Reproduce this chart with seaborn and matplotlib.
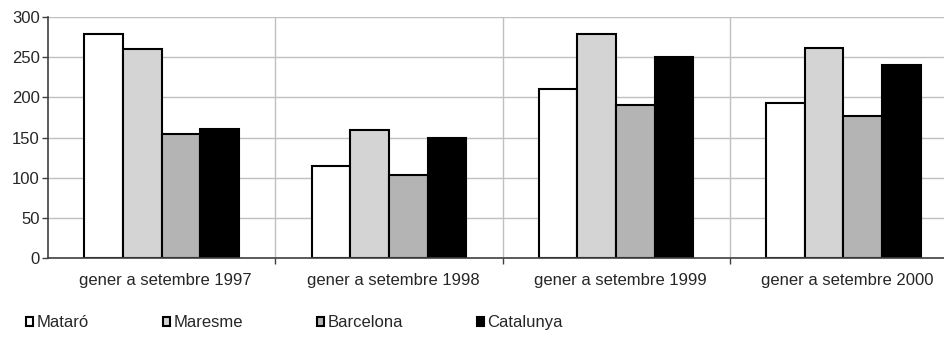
import pandas as pd
import matplotlib.pyplot as plt
import matplotlib.transforms as mtransforms
import seaborn as sns
from matplotlib.patches import Patch

# Dades
periodes = ['gener a setembre 1997', 'gener a setembre 1998',
            'gener a setembre 1999', 'gener a setembre 2000']
zones = ['Mataró', 'Maresme', 'Barcelona', 'Catalunya']
mataro = [279, 114, 210, 193]
maresme = [260, 159, 279, 262]
barcelona = [154, 103, 190, 177]
catalunya = [160, 149, 250, 240]
colors = ['#ffffff', '#d4d4d4', '#b4b4b4', '#000000']

df = pd.DataFrame({
    'periode': periodes * 4,
    'zona': [z for z in zones for _ in periodes],
    'valor': mataro + maresme + barcelona + catalunya,
})

sns.set_style('white')
plt.rcParams['font.family'] = ['Liberation Sans', 'DejaVu Sans']

fig = plt.figure(figsize=(9.44, 3.38), dpi=100)
ax = fig.add_axes([48 / 944, 80 / 338, 909 / 944, 241 / 338])

sns.barplot(data=df, x='periode', y='valor', hue='zona', order=periodes,
            hue_order=zones, palette=colors, width=0.68, gap=0,
            edgecolor='black', linewidth=1.5, saturation=1, ax=ax, legend=False)

ax.set_xlim(-0.5, 3.5)
ax.set_ylim(0, 300)
ax.set_yticks(range(0, 301, 50))
ax.set_xticks([0.5, 1.5, 2.5], minor=True)
ax.grid(axis='y', color='#c0c0c0', linewidth=1)
ax.grid(axis='x', which='minor', color='#c0c0c0', linewidth=1)
ax.set_axisbelow(True)
ax.set_xlabel('')
ax.set_ylabel('')

for s in ['top', 'right']:
    ax.spines[s].set_visible(False)
for s in ['left', 'bottom']:
    ax.spines[s].set_color('#404040')
    ax.spines[s].set_linewidth(1.2)

fs = 12
ax.tick_params(axis='y', left=True, length=4, width=1, color='#404040',
               labelsize=fs, pad=2)
ax.tick_params(axis='x', which='major', bottom=False, labelsize=fs, pad=7)
ax.tick_params(axis='x', which='minor', bottom=True, length=4, width=1, color='#404040')

# les etiquetes de l'eix x estan una mica desplaçades a la dreta
offset = mtransforms.ScaledTranslation(4 / 100, 0, fig.dpi_scale_trans)
for lbl in ax.get_xticklabels():
    lbl.set_transform(lbl.get_transform() + offset)

handles = [Patch(facecolor=c, edgecolor='black', linewidth=1.5) for c in colors]
fig.legend(handles, zones, loc='center left', bbox_to_anchor=(0.012, 0.045),
           ncol=4, frameon=False, fontsize=fs, handlelength=0.42,
           handleheight=0.42, handletextpad=0.2, columnspacing=4.45)

plt.savefig('out.png', dpi=100)
